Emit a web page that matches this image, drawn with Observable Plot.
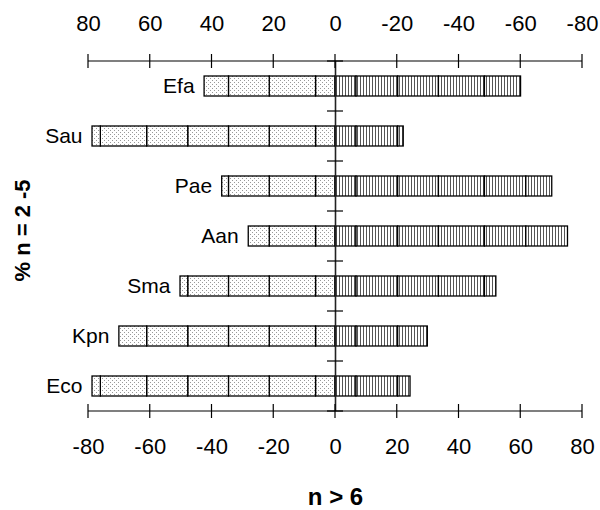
<!DOCTYPE html>
<html>
<head>
<meta charset="utf-8">
<script src="https://cdn.jsdelivr.net/npm/d3@7"></script>
<script src="https://cdn.jsdelivr.net/npm/@observablehq/plot@0.6"></script>
<style>
  html, body { margin: 0; padding: 0; background: #fff; }
</style>
</head>
<body>
<div id="chart"></div>
<script>
// ---- data ----
const categories = ["Efa", "Sau", "Pae", "Aan", "Sma", "Kpn", "Eco"];
// % n = 2-5 (drawn to the left)
const leftTotals = [42.4, 78.7, 36.7, 28.1, 50.2, 70.0, 78.7];
// n > 6 (drawn to the right)
const rightTotals = [60.1, 22.1, 70.2, 75.3, 52.1, 29.9, 24.3];
// segment divisions inside the bars
const leftBreaks = [6.3, 21.3, 34.5, 47.7, 61.0, 76.0];
const rightBreaks = [6.8, 20.3, 33.5, 48.4, 61.8];
const xTicks = [-80, -60, -40, -20, 0, 20, 40, 60, 80];
const xTitle = "n > 6";
const yTitle = "% n = 2 -5";

// ---- derived segments ----
function segments(totals, breaks, sign) {
  const out = [];
  categories.forEach((cat, i) => {
    const t = totals[i];
    const edges = [0, ...breaks.filter(b => b < t), t];
    for (let k = 0; k < edges.length - 1; k++) {
      out.push({cat, x1: sign * edges[k], x2: sign * edges[k + 1]});
    }
  });
  return out;
}
const leftSegs = segments(leftTotals, leftBreaks, -1);
const rightSegs = segments(rightTotals, rightBreaks, 1);
const labels = categories.map((cat, i) => ({cat, x: -leftTotals[i]}));

const fmt = v => String(v);
const fmtTop = v => (v === 0 ? "0" : String(-v));

const defsMark = () => {
  const defs = d3.create("svg:defs");
  const dots = defs.append("pattern").attr("id", "dots")
    .attr("width", 4).attr("height", 4).attr("patternUnits", "userSpaceOnUse");
  dots.append("rect").attr("width", 4).attr("height", 4).attr("fill", "white");
  dots.append("rect").attr("x", 0).attr("y", 0).attr("width", 1).attr("height", 1).attr("fill", "#999");
  dots.append("rect").attr("x", 2).attr("y", 2).attr("width", 1).attr("height", 1).attr("fill", "#999");
  const vl = defs.append("pattern").attr("id", "vlines")
    .attr("width", 3).attr("height", 4).attr("patternUnits", "userSpaceOnUse");
  vl.append("rect").attr("width", 3).attr("height", 4).attr("fill", "white");
  vl.append("rect").attr("x", 0).attr("width", 1).attr("height", 4).attr("fill", "#555");
  return defs.node();
};

const axesMark = (index, scales, values, dims) => {
  const {x, y} = scales;
  const top = dims.marginTop;
  const bottom = dims.height - dims.marginBottom;
  const left = dims.marginLeft;
  const right = dims.width - dims.marginRight;
  const g = d3.create("svg:g").attr("stroke", "black").attr("stroke-width", 1.2).attr("fill", "none");
  g.append("line").attr("x1", left).attr("x2", right).attr("y1", top).attr("y2", top);
  g.append("line").attr("x1", left).attr("x2", right).attr("y1", bottom).attr("y2", bottom);
  for (const t of xTicks) {
    const px = x(t);
    for (const yy of [top, bottom]) {
      g.append("line").attr("x1", px).attr("x2", px).attr("y1", yy - 7).attr("y2", yy + 7);
    }
  }
  const step = y(categories[1]) - y(categories[0]);
  const x0 = x(0);
  const bounds = categories.map(c => y(c) - step * 0.3);
  bounds.push(y(categories[categories.length - 1]) + step * 0.7);
  for (const b of bounds) {
    g.append("line").attr("x1", x0 - 8).attr("x2", x0 + 8).attr("y1", b).attr("y2", b);
  }
  return g.node();
};

const chart = Plot.plot({
  width: 600,
  height: 510,
  marginTop: 61,
  marginBottom: 99,
  marginLeft: 88,
  marginRight: 18,
  style: {fontFamily: "Liberation Sans, Arial, Helvetica, sans-serif", fontSize: "20px", background: "white", color: "black"},
  x: {domain: [-80, 80], axis: null},
  y: {domain: categories, paddingInner: 0.6, paddingOuter: 0.3, axis: null},
  marks: [
    defsMark,
    Plot.rectX(leftSegs, {y: "cat", x1: "x1", x2: "x2", fill: "url(#dots)", stroke: "black", strokeWidth: 1.3}),
    Plot.rectX(rightSegs, {y: "cat", x1: "x1", x2: "x2", fill: "url(#vlines)", stroke: "black", strokeWidth: 1.3}),
    Plot.ruleX([0], {stroke: "#222", strokeWidth: 1.6}),
    axesMark,
    Plot.text(labels, {y: "cat", x: "x", text: "cat", textAnchor: "end", lineAnchor: "middle", dx: -10, fontSize: 21, fill: "black"}),
    Plot.text(xTicks, {x: d => d, frameAnchor: "top", lineAnchor: "middle", dy: -38, text: fmtTop, fontSize: 22, fill: "black"}),
    Plot.text(xTicks, {x: d => d, frameAnchor: "bottom", lineAnchor: "middle", dy: 35, text: fmt, fontSize: 22, fill: "black"}),
    Plot.text([xTitle], {frameAnchor: "bottom", lineAnchor: "middle", textAnchor: "middle", dy: 86, text: d => d, fontSize: 24, fontWeight: "bold", fill: "black"}),
    Plot.text([yTitle], {frameAnchor: "left", lineAnchor: "middle", textAnchor: "middle", dx: -66, dy: -6, rotate: -90, text: d => d, fontSize: 22, fontWeight: "bold", fill: "black"})
  ]
});
document.getElementById("chart").appendChild(chart);
</script>
</body>
</html>
